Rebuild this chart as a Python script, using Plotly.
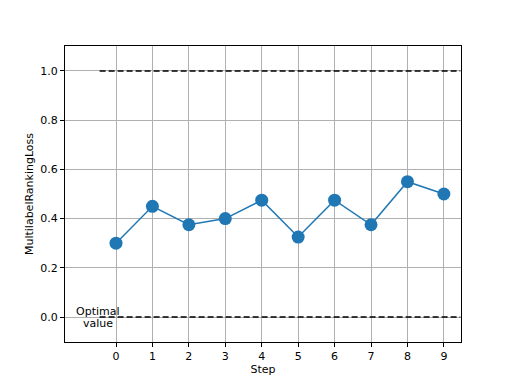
import plotly.graph_objects as go

steps = [0, 1, 2, 3, 4, 5, 6, 7, 8, 9]
loss = [0.30, 0.45, 0.375, 0.40, 0.475, 0.325, 0.475, 0.375, 0.55, 0.50]
ref_x = [-0.45, 9.45]
worst = [1.0, 1.0]
optimal = [0.0, 0.0]
y_ticks = [0.0, 0.2, 0.4, 0.6, 0.8, 1.0]

fig = go.Figure()
fig.add_trace(go.Scatter(x=ref_x, y=worst, mode="lines",
                         line=dict(color="black", width=1.6, dash="6px,3px"), showlegend=False))
fig.add_trace(go.Scatter(x=ref_x, y=optimal, mode="lines",
                         line=dict(color="black", width=1.6, dash="6px,3px"), showlegend=False))
fig.add_trace(go.Scatter(x=steps, y=loss, mode="lines+markers",
                         line=dict(color="#1f77b4", width=1.5),
                         marker=dict(color="#1f77b4", size=13), showlegend=False))

fig.add_annotation(x=-0.5, y=0.0, text="Optimal", showarrow=False, yshift=6,
                   xanchor="center", yanchor="middle", font=dict(size=11, color="black"))
fig.add_annotation(x=-0.5, y=0.0, text="value", showarrow=False, yshift=-6,
                   xanchor="center", yanchor="middle", font=dict(size=11, color="black"))

axis_common = dict(showline=True, linecolor="black", linewidth=1, mirror=True,
                   showgrid=True, gridcolor="#b0b0b0", gridwidth=0.8,
                   ticks="outside", ticklen=4, tickcolor="black",
                   tickfont=dict(size=11, color="black"), zeroline=False, automargin=False)

fig.update_xaxes(range=[-1.4, 9.47], tickvals=steps, title=dict(text="Step", font=dict(size=11), standoff=3),
                 **axis_common)
fig.update_yaxes(range=[-0.1016, 1.1016], tickvals=y_ticks, ticktext=[f"{v:.1f}" for v in y_ticks],
                 title=dict(text="MultilabelRankingLoss", font=dict(size=11), standoff=4), **axis_common)

fig.update_layout(width=512, height=384, margin=dict(l=57, r=59, t=38, b=50),
                  plot_bgcolor="white", paper_bgcolor="white",
                  font=dict(family="DejaVu Sans", size=11, color="black"))

fig.write_html("out.html")
